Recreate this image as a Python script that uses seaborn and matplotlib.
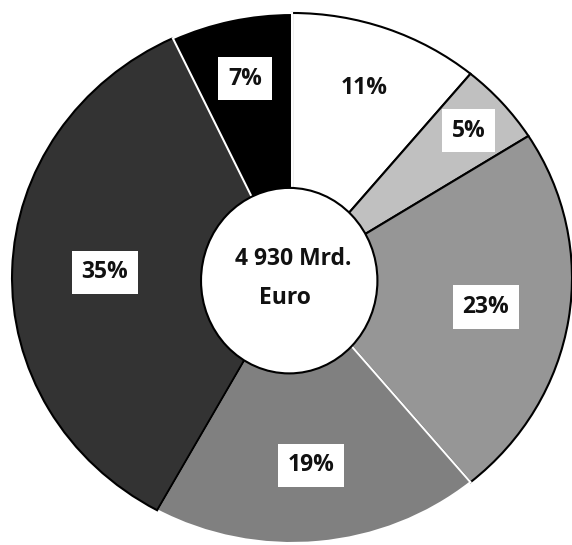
import seaborn as sns
import matplotlib.pyplot as plt
from matplotlib.patches import Ellipse
import numpy as np

# shares of the 4 930 Mrd. Euro, clockwise from the top
shares = [11, 5, 23, 19, 35, 7]
labels = ['11%', '5%', '23%', '19%', '35%', '7%']
colors = ['#ffffff', '#c0c0c0', '#969696', '#808080', '#333333', '#000000']
edges = ['black', 'black', 'black', 'white', 'black', 'white']
label_r = [0.76, 0.84, 0.70, 0.71, 0.67, 0.77]
center_text = ['4 930 Mrd.', 'Euro']

sns.set_theme(style='white')
plt.rcParams['font.family'] = ['Open Sans', 'DejaVu Sans']

fig = plt.figure(figsize=(5.72, 5.45), dpi=100)
ax = fig.add_axes([0, 0, 1, 1])

wedges, _ = ax.pie(shares, colors=colors, startangle=90, counterclock=False,
                   wedgeprops=dict(linewidth=1.5))
for w, ec in zip(wedges, edges):
    w.set_edgecolor(ec)

# percentage labels in white boxes
for w, lab, r in zip(wedges, labels, label_r):
    mid = np.deg2rad((w.theta1 + w.theta2) / 2)
    ax.text(r * np.cos(mid), r * np.sin(mid), lab, ha='center', va='center',
            fontsize=16.5, fontweight='bold', color='#111111',
            bbox=dict(boxstyle='square,pad=0.42', fc='white', ec='none'))

# hole in the middle
ax.add_patch(Ellipse((-0.01, -0.01), 0.63, 0.70, fc='white', ec='black', lw=1.5, zorder=3))
ax.text(0.005, 0.07, center_text[0], ha='center', va='center', fontsize=16.5,
        fontweight='bold', color='#111111', zorder=4)
ax.text(-0.025, -0.075, center_text[1], ha='center', va='center', fontsize=16.5,
        fontweight='bold', color='#111111', zorder=4)

ax.set_aspect('auto')
ax.set_xlim(-1.043, 1.0)
ax.set_ylim(-1.0075, 1.049)
ax.axis('off')

fig.savefig('out.png', dpi=100)
